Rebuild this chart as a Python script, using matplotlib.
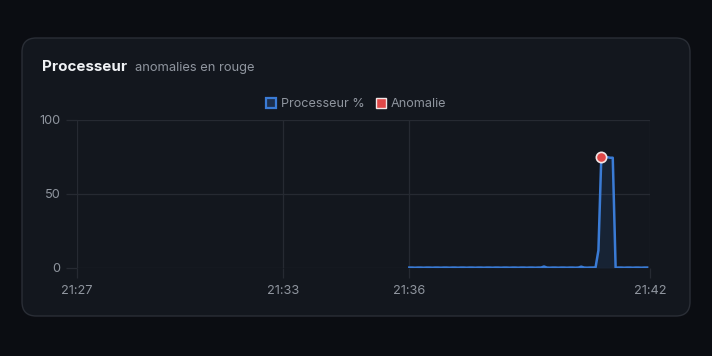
import matplotlib
matplotlib.use("Agg")
import matplotlib.pyplot as plt
from matplotlib.patches import FancyBboxPatch
from matplotlib.lines import Line2D
import numpy as np

plt.rcParams['font.family'] = ['Inter', 'DejaVu Sans']

# ---- data (category index axis) ----
n_slots = 201
tick_idx = [0, 72, 116, 200]
tick_labels = ["21:27", "21:33", "21:36", "21:42"]
yticks = [0, 50, 100]

start_idx = 116
cpu_values = [
    0.3, 0.3, 0.2, 0.3, 0.3, 0.2, 0.3, 0.3, 0.2, 0.3,
    0.3, 0.2, 0.3, 0.3, 0.2, 0.3, 0.3, 0.2, 0.3, 0.3,
    0.2, 0.3, 0.3, 0.2, 0.3, 0.3, 0.2, 0.3, 0.3, 0.2,
    0.3, 0.3, 0.2, 0.3, 0.3, 0.2, 0.3, 0.3, 0.2, 0.3,
    0.3, 0.2, 0.3, 0.3, 0.2, 0.3, 0.3, 1.0, 0.3, 0.2,
    0.3, 0.3, 0.2, 0.3, 0.3, 0.2, 0.3, 0.3, 0.2, 0.3,
    0.9, 0.3, 0.2, 0.3, 0.3, 0.4, 12.0, 75.0, 75.0, 75.0,
    74.5, 74.5, 0.2, 0.3, 0.3, 0.2, 0.3, 0.3, 0.2, 0.3,
    0.3, 0.2, 0.3, 0.3,
]
anomaly_idx = [183]
anomaly_vals = [75.0]

# ---- colours ----
bg_outer = "#0b0d12"
card_bg = "#13171e"
card_edge = "#2a2e36"
grid_c = "#262a32"
text_c = "#8f959e"
line_c = "#3a7bd5"
anom_c = "#e04848"

fig = plt.figure(figsize=(7.12, 3.56), dpi=100)
fig.patch.set_facecolor(bg_outer)
W, H = 712, 356

def px(x, y):
    return x / W, 1 - y / H

card = FancyBboxPatch((22 / W, 1 - 316 / H), (690 - 22) / W, (316 - 38) / H,
                      boxstyle="round,pad=0,rounding_size=0.02",
                      transform=fig.transFigure, facecolor=card_bg,
                      edgecolor=card_edge, linewidth=1.0, zorder=-5,
                      mutation_aspect=2.0)
fig.patches.append(card)

# title
fig.text(*px(42, 67), "Processeur", color="#f0f2f5", fontsize=10.9,
         fontweight="bold", va="center", ha="left")
fig.text(*px(135, 68), "anomalies en rouge", color="#8f959e", fontsize=9.3,
         va="center", ha="left")

# axes
ax = fig.add_axes([77 / W, 1 - 268 / H, (650 - 77) / W, (268 - 120) / H])
ax.patch.set_alpha(0)

x = np.arange(start_idx, start_idx + len(cpu_values))
y = np.array(cpu_values)
ax.fill_between(x, 0, y, color=line_c, alpha=0.12, linewidth=0, zorder=2)
ax.plot(x, y, color=line_c, linewidth=1.8, zorder=3, solid_joinstyle="round")
ax.scatter(anomaly_idx, anomaly_vals, s=55, color=anom_c, edgecolors="#f3e6e6",
           linewidths=1.2, zorder=4)

ax.set_xlim(0, n_slots - 1)
ax.set_ylim(0, 100)
ax.set_xticks(tick_idx)
ax.set_xticklabels(tick_labels)
ax.set_yticks(yticks)
ax.set_yticklabels([str(v) for v in yticks])
ax.grid(True, color=grid_c, linewidth=0.9, zorder=1)
for s in ax.spines.values():
    s.set_visible(False)
ax.tick_params(axis="both", colors=grid_c, labelcolor=text_c, labelsize=9.2,
               width=0.9)
ax.tick_params(axis="y", length=8, pad=4)
ax.tick_params(axis="x", length=7, pad=5)
ax.set_axisbelow(True)

# legend
handles = [
    Line2D([], [], marker="s", linestyle="none", markersize=7.5,
           markerfacecolor=(0.23, 0.48, 0.84, 0.25), markeredgecolor=line_c,
           markeredgewidth=1.6, label="Processeur %"),
    Line2D([], [], marker="s", linestyle="none", markersize=7.5,
           markerfacecolor=anom_c, markeredgecolor="#f3e6e6",
           markeredgewidth=1.0, label="Anomalie"),
]
leg = fig.legend(handles=handles, loc="center", bbox_to_anchor=px(356, 104),
                 ncol=2, frameon=False, fontsize=9.1, handlelength=0.8,
                 handletextpad=0.4, columnspacing=0.9, labelcolor=text_c)

fig.savefig("out.png", dpi=100, facecolor=bg_outer)
